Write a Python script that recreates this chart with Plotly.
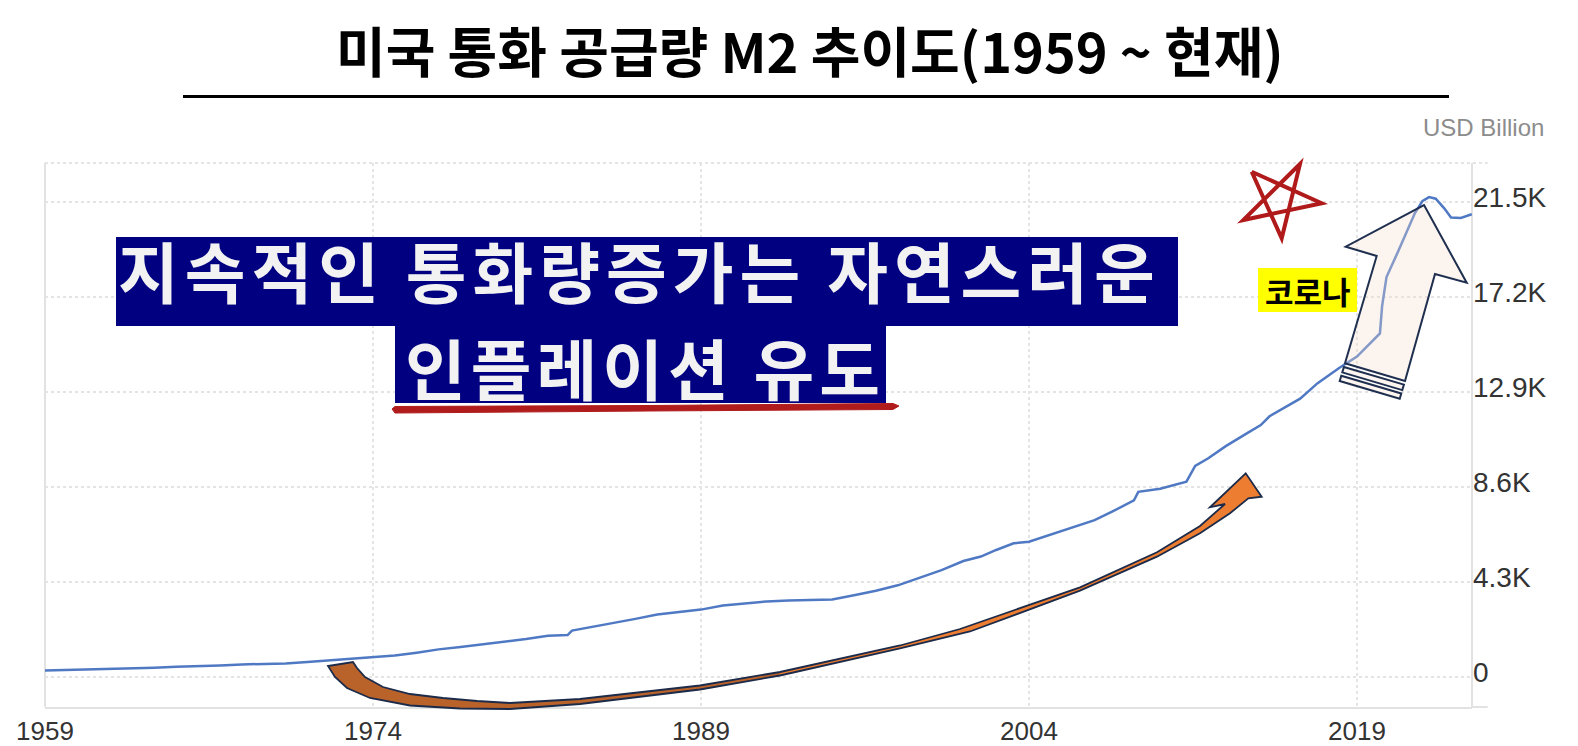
import plotly.graph_objects as go

# ---------------- data ----------------
years = [1959.0, 1960.0, 1961.0, 1962.0, 1963.0, 1964.0, 1965.0, 1966.0, 1967.0, 1968.0,
         1969.0, 1970.0, 1971.0, 1972.0, 1973.0, 1974.0, 1975.0, 1976.0, 1977.0, 1978.0,
         1979.0, 1980.0, 1981.0, 1982.0, 1982.9, 1983.1, 1984.0, 1985.0, 1986.0, 1987.0,
         1988.0, 1989.0, 1990.0, 1991.0, 1992.0, 1993.0, 1994.0, 1995.0, 1996.0, 1997.0,
         1998.0, 1999.0, 2000.0, 2001.0, 2001.8, 2002.5, 2003.3, 2004.0, 2005.0, 2006.0,
         2007.0, 2007.8, 2008.8, 2009.0, 2010.0, 2011.2, 2011.6, 2012.2, 2013.0, 2014.0,
         2014.6, 2015.0, 2016.0, 2016.4, 2017.2, 2018.2, 2019.0, 2019.6, 2020.05, 2020.15,
         2020.35, 2020.9, 2021.3, 2021.65, 2022.0, 2022.3, 2022.6, 2023.0, 2023.3, 2023.75,
         2024.25]
m2_usd_billion = [290, 310, 330, 360, 390, 420, 460, 480, 520, 570,
                  590, 610, 680, 760, 840, 890, 970, 1100, 1250, 1360,
                  1470, 1580, 1720, 1870, 1900, 2100, 2260, 2440, 2630, 2830,
                  2950, 3050, 3240, 3340, 3420, 3460, 3500, 3510, 3700, 3900,
                  4150, 4500, 4840, 5250, 5450, 5750, 6050, 6120, 6450, 6750,
                  7100, 7480, 8000, 8380, 8520, 8840, 9550, 9900, 10450, 11050,
                  11400, 11800, 12350, 12600, 13300, 14000, 14500, 15100, 15550, 16800,
                  18100, 19300, 20200, 21000, 21550, 21720, 21650, 21200, 20800, 20780,
                  20950]

x_tick_vals = [1959, 1974, 1989, 2004, 2019]
x_tick_text = ["1959", "1974", "1989", "2004", "2019"]
y_tick_vals = [0, 4300, 8600, 12900, 17200, 21500]
y_tick_text = ["0", "4.3K", "8.6K", "12.9K", "17.2K", "21.5K"]

title_text = "미국 통화 공급량 M2 추이도(1959 ~ 현재)"
box_line1 = "지속적인 통화량증가는 자연스러운"
box_line2 = "인플레이션 유도"
covid_label = "코로나"
unit_label = "USD Billion"

# ---------------- layout geometry ----------------
W, H = 1578, 746
ML, MR, MT, MB = 45, 106, 163, 39
PW, PH = W - ML - MR, H - MT - MB


def px(x):
    return (x - ML) / PW


def py(y):
    return (H - MB - y) / PH


def path(points, close=True):
    s = "M " + " L ".join(f"{px(x):.5f},{py(y):.5f}" for x, y in points)
    return s + (" Z" if close else "")


CJK = "Noto Sans CJK KR"
LAT = "Liberation Sans, Arial"

fig = go.Figure()
fig.add_trace(go.Scatter(
    x=years, y=m2_usd_billion, mode="lines",
    line=dict(color="#5079c4", width=2.5),
    hoverinfo="skip", showlegend=False,
))

shapes = []
# plot frame
shapes.append(dict(type="line", xref="paper", yref="paper", x0=0, x1=0, y0=0, y1=1,
                   line=dict(color="#e2e2e2", width=2), layer="below"))
shapes.append(dict(type="line", xref="paper", yref="paper", x0=1, x1=1, y0=0, y1=1,
                   line=dict(color="#e2e2e2", width=2), layer="below"))
shapes.append(dict(type="line", xref="paper", yref="paper", x0=0, x1=1.011, y0=1, y1=1,
                   line=dict(color="#e4e4e4", width=2, dash="dot"), layer="below"))
shapes.append(dict(type="line", xref="paper", yref="paper", x0=1, x1=1.011, y0=0, y1=0,
                   line=dict(color="#e2e2e2", width=2), layer="below"))
# title underline
shapes.append(dict(type="line", xref="paper", yref="paper", x0=px(183), x1=px(1449),
                   y0=py(96.5), y1=py(96.5), line=dict(color="black", width=3)))
# navy boxes
shapes.append(dict(type="rect", xref="paper", yref="paper", x0=px(116), x1=px(1178),
                   y0=py(326), y1=py(237), fillcolor="#000080", line=dict(width=0)))
shapes.append(dict(type="rect", xref="paper", yref="paper", x0=px(395), x1=px(886),
                   y0=py(403), y1=py(325), fillcolor="#000080", line=dict(width=0)))
# red underline
underline = [(392, 409), (395, 406.5), (650, 405.5), (893, 403.5), (899, 406),
             (893, 409.5), (650, 411), (395, 413)]
shapes.append(dict(type="path", xref="paper", yref="paper", path=path(underline),
                   fillcolor="#b01c1c", line=dict(color="#b01c1c", width=1)))

# orange curved arrow
upper = [(353, 662), (357, 668), (365, 677), (383, 687), (410, 694), (443, 698), (477, 701),
         (510, 703), (580, 699), (700, 685.5), (780, 672), (900, 645.5), (960, 629),
         (1080, 587.3), (1157, 552.3), (1200, 526), (1225, 504)]
head = [(1210, 507.3), (1245.7, 473.3), (1261.7, 496.7), (1248.3, 498.3)]
lower = [(1230, 513.3), (1200, 533.3), (1157, 556.7), (1080, 590.7), (970, 631.5),
         (900, 648.5), (780, 675.5), (700, 689.5), (580, 704), (510, 709), (460, 708.5),
         (410, 705.5), (370, 698), (347, 688), (335, 677), (328, 666)]
tail_poly = upper[:11] + lower[6:]
head_poly = upper[10:] + head + lower[:7]
shapes.append(dict(type="path", xref="paper", yref="paper", path=path(tail_poly),
                   fillcolor="#b9622a", line=dict(width=0)))
shapes.append(dict(type="path", xref="paper", yref="paper", path=path(head_poly),
                   fillcolor="#ed7d31", line=dict(width=0)))
shapes.append(dict(type="path", xref="paper", yref="paper", path=path(upper + head + lower),
                   fillcolor="rgba(0,0,0,0)", line=dict(color="#1c2b4a", width=1.8)))

# big up arrow (corona)
big_arrow = [(1424, 205), (1466.7, 282.7), (1435, 274), (1405, 381), (1345, 363.3),
             (1376.7, 256), (1345.7, 246.7)]
shapes.append(dict(type="path", xref="paper", yref="paper", path=path(big_arrow),
                   fillcolor="rgba(243,220,205,0.32)", line=dict(color="#1f2f4f", width=2)))
Lb, Rb = (1345, 363.3), (1405, 381)
n = (-0.286, 0.958)
for d0, d1 in [(3.8, 9.5), (13.0, 18.5)]:
    pts = [(Lb[0] + n[0] * d0, Lb[1] + n[1] * d0), (Rb[0] + n[0] * d0, Rb[1] + n[1] * d0),
           (Rb[0] + n[0] * d1, Rb[1] + n[1] * d1), (Lb[0] + n[0] * d1, Lb[1] + n[1] * d1)]
    shapes.append(dict(type="path", xref="paper", yref="paper", path=path(pts),
                       fillcolor="#fdf5f0", line=dict(color="#1f2f4f", width=2)))

# hand drawn star
star = [(1251.7, 171.7), (1321.7, 203.3), (1243.3, 220), (1300, 164), (1281.7, 238.3),
        (1251.7, 171.7)]
shapes.append(dict(type="path", xref="paper", yref="paper", path=path(star, close=False),
                   fillcolor="rgba(0,0,0,0)", line=dict(color="#b01a1a", width=4)))

# yellow highlight
shapes.append(dict(type="rect", xref="paper", yref="paper", x0=px(1258), x1=px(1357),
                   y0=py(312), y1=py(268), fillcolor="#ffff00", line=dict(width=0)))

BOX_FONT = 66
annotations = [
    dict(text=f"<b>{title_text}</b>", x=px(810), y=py(49), xref="paper", yref="paper",
         xanchor="center", yanchor="middle", showarrow=False,
         font=dict(family=CJK, size=54, color="black")),
    dict(text=f'<b><span style="letter-spacing:6px">{box_line1}</span></b>',
         x=px(117), y=py(269), xref="paper", yref="paper",
         xanchor="left", yanchor="middle", showarrow=False, borderpad=0,
         font=dict(family=CJK, size=BOX_FONT, color="#f2f2f2")),
    dict(text=f'<b><span style="letter-spacing:5px">{box_line2}</span></b>',
         x=px(404), y=py(366), xref="paper", yref="paper",
         xanchor="left", yanchor="middle", showarrow=False, borderpad=0,
         font=dict(family=CJK, size=BOX_FONT, color="#f2f2f2")),
    dict(text=f"<b>{covid_label}</b>", x=px(1307.5), y=py(290), xref="paper", yref="paper",
         xanchor="center", yanchor="middle", showarrow=False,
         font=dict(family=CJK, size=31, color="black")),
    dict(text=unit_label, x=px(1546), y=py(127), xref="paper", yref="paper",
         xanchor="right", yanchor="middle", showarrow=False,
         font=dict(family=LAT, size=24, color="#8c8c8c")),
]

fig.update_layout(
    width=W, height=H,
    margin=dict(l=ML, r=MR, t=MT, b=MB, pad=0),
    paper_bgcolor="white", plot_bgcolor="white",
    showlegend=False, hovermode=False,
    shapes=shapes, annotations=annotations,
    xaxis=dict(range=[1959, 2024.26], tickvals=x_tick_vals, ticktext=x_tick_text,
               showgrid=True, gridcolor="#e4e4e4", griddash="dot", gridwidth=2,
               zeroline=False, showline=True, linecolor="#e2e2e2", linewidth=2,
               ticks="", automargin=False,
               tickfont=dict(family=LAT, size=26, color="#333333")),
    yaxis=dict(range=[-1358, 23264], side="right", tickvals=y_tick_vals, ticktext=y_tick_text,
               showgrid=True, gridcolor="#e4e4e4", griddash="dot", gridwidth=2,
               zeroline=False, showline=False, ticks="", automargin=False,
               ticklabelshift=-5,
               tickfont=dict(family=LAT, size=28, color="#333333")),
)

fig.write_html(
    "out.html",
    config={"displayModeBar": False},
    post_script="document.body.style.margin='0';document.body.style.overflow='hidden';",
)
